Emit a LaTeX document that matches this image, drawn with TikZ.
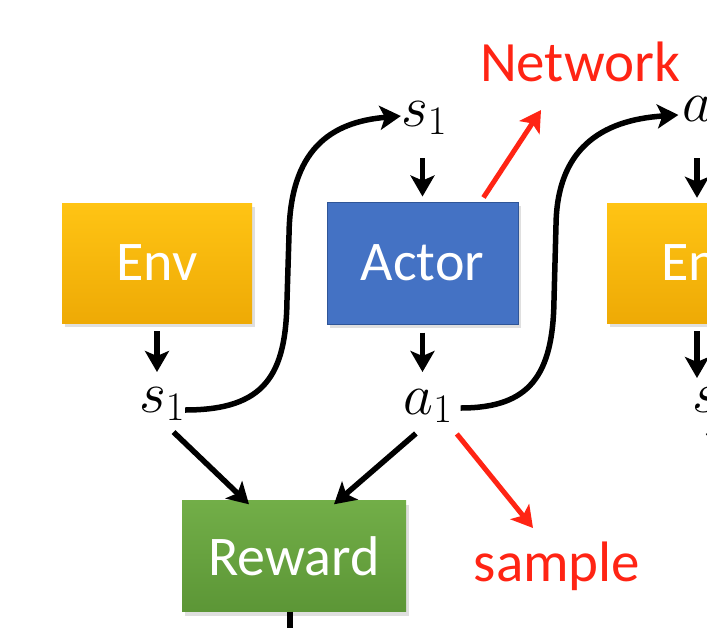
\RequirePackage{fix-cm}
\documentclass[tikz,border=0pt]{standalone}
\usepackage[no-math]{fontspec}
\setmainfont{Carlito}
\usetikzlibrary{arrows.meta,shadows}
\definecolor{envtop}{HTML}{FFC414}
\definecolor{envbot}{HTML}{EEAA05}
\definecolor{actorfill}{HTML}{4472C4}
\definecolor{actordraw}{HTML}{2F5597}
\definecolor{rewtop}{HTML}{72AE48}
\definecolor{rewbot}{HTML}{5C9636}
\definecolor{myred}{HTML}{FF2414}
\begin{document}
\begin{tikzpicture}[x=1pt,y=-1pt,
  blk/.style={line width=5.5pt, black, -{Stealth[length=21pt,width=24pt,inset=5pt]}},
  redarr/.style={line width=5pt, myred, -{Stealth[length=21pt,width=24pt,inset=5pt]}},
  plain/.style={line width=5.5pt, black},
  boxbase/.style={text=white, font=\fontsize{56}{60}\selectfont, inner sep=0pt,
    drop shadow={shadow xshift=3pt, shadow yshift=-4pt, opacity=0.25}},
  envbox/.style={boxbase, top color=envtop, bottom color=envbot,
    minimum width=190pt, minimum height=120pt},
  actorbox/.style={boxbase, fill=actorfill, draw=actordraw, line width=1pt,
    minimum width=191pt, minimum height=122pt},
  rewbox/.style={boxbase, top color=rewtop, bottom color=rewbot,
    minimum width=224pt, minimum height=111pt},
  lbl/.style={font=\fontsize{58}{62}\selectfont, inner sep=0pt},
  redtxt/.style={text=myred, font=\fontsize{57}{60}\selectfont, inner sep=0pt}]
\useasboundingbox (0,0) rectangle (707,627);
\clip (0,0) rectangle (707,627);
\fill[white] (0,0) rectangle (707,627);

% boxes
\node[envbox] (env1) at (157,263) {Env};
\node[actorbox] (actor) at (422.5,263) {Actor};
\node[envbox] (env2) at (702,263) {Env};
\node[rewbox] (reward) at (294,556) {Reward};

% labels
\node[lbl] (s1a) at (162,404) {$s_1$};
\node[lbl] (s1b) at (424,118) {$s_1$};
\node[lbl] (a1) at (428,406) {$a_1$};
\node[lbl] (a2) at (707,113) {$a_2$};
\node[lbl] (s2) at (715,404) {$s_2$};
\node[redtxt] (net) at (580,62) {Network};
\node[redtxt] (samp) at (557,566) {sample};

\coordinate (nettip) at (541,110);
\coordinate (samptip) at (533,528);
\coordinate (down) at (290,640);
\coordinate (next) at (770,520);

% vertical arrows
\draw[blk] ([yshift=-8pt]env1.south) -- ([xshift=0pt]env1.south |- 0,372);
\draw[blk] (actor.north |- 0,158) -- ([yshift=5pt]actor.north);
\draw[blk] ([yshift=-8pt]actor.south) -- (actor.south |- 0,372);
\draw[blk] ([xshift=-5pt]env2.north |- 0,158) -- ([xshift=-5pt,yshift=5pt]env2.north);
\draw[blk] ([xshift=-5pt,yshift=-8pt]env2.south) -- ([xshift=-5pt]env2.south |- 0,378);

% s-curves
\draw[blk] (s1a.east |- 0,410) .. controls (265,410) and (286,375) .. (287,300)
  -- (289,235) .. controls (290,150) and (330,122) .. (s1b.west |- 0,116);
\draw[blk] ([xshift=8pt]a1.east |- 0,408) .. controls (530,408) and (553,375) .. (554,300)
  -- (556,225) .. controls (557,150) and (600,120) .. ([xshift=-4pt]a2.west |- 0,115);

% to reward
\draw[blk, shorten <=16pt] (s1a.south) -- ([xshift=-45pt,yshift=-4pt]reward.north);
\draw[blk, shorten <=16pt] (a1.south) -- ([xshift=40pt,yshift=-4pt]reward.north);
\draw[plain] (reward.south -| down) -- (down);
\draw[blk, shorten <=14pt] ([xshift=-15pt]s2.south) -- (next);

% red arrows
\draw[redarr] ([xshift=-35pt,yshift=4pt]actor.north east) -- (nettip);
\draw[redarr, shorten <=14pt] ([xshift=20pt]a1.south) -- (samptip);
\end{tikzpicture}
\end{document}
